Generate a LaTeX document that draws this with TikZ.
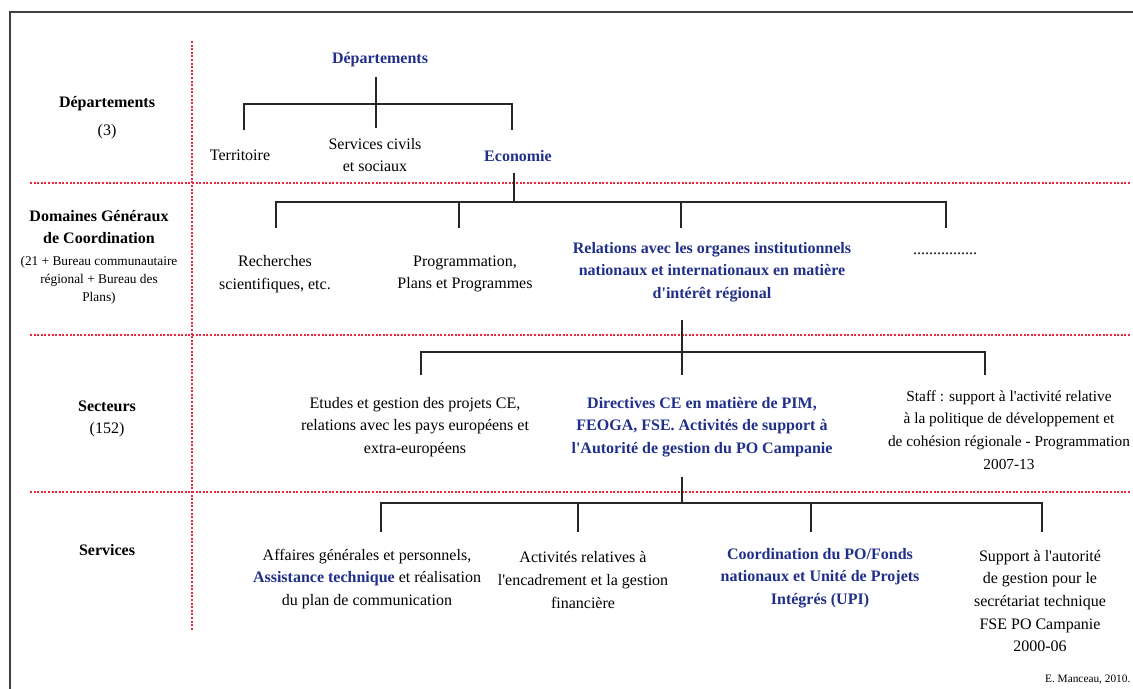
\documentclass[tikz,border=0pt]{standalone}
\usepackage{fontspec}
\setmainfont{Liberation Serif}[Ligatures=TeXOff]
\definecolor{bleu}{RGB}{32,48,138}
\definecolor{rouge}{RGB}{236,40,60}
\tikzset{
	txt/.style={align=center,inner sep=1pt,font=\fontsize{12}{17}\selectfont},
	txtb/.style={txt,font=\bfseries\fontsize{12}{17}\selectfont},
	txtbl/.style={txtb,text=bleu},
	petit/.style={align=center,inner sep=1pt,font=\fontsize{10}{13.5}\selectfont},
	trait/.style={line width=1pt,black!85},
	sep/.style={rouge,line width=1pt,dash pattern=on 1.5pt off 1.2pt},
}
\begin{document}
\begin{tikzpicture}[x=0.75pt,y=-0.75pt]
	\useasboundingbox (0,0) rectangle (1133,689);
	\draw[line width=1.1pt,black!75] (1133,12) -- (10,12) -- (10,689); %cadre
	\draw[sep] (192,41) -- (192,631);
	\foreach \y in {183,335,492}{\draw[sep] (30,\y) -- (1130,\y);}%niveaux
	
	%colonne gauche
	\node[txtb] (niv1) at (107,104) {Départements};
	\node[txt] (niv1n) at (107,132) {(3)};
	\node[txtb] (niv2) at (99,227) {Domaines Généraux\\de Coordination};
	\node[petit] (niv2n) at (99,280) {(21 + Bureau communautaire\\régional + Bureau des\\Plans)};
	\node[txtb] (niv3) at (107,406) {Secteurs};
	\node[txt] (niv3n) at (107,430) {(152)};
	\node[txtb] (niv4) at (107,550) {Services};
	
	%departements
	\node[txtbl] (dep) at (380,60) {Départements};
	\node[txt] (ter) at (240,155) {Territoire};
	\node[txt] (scs) at (375,155) {Services civils\\et sociaux};
	\node[txtbl] (eco) at (518,156) {Economie};
	\coordinate (dep-b) at (376,104);
	\coordinate (ter-h) at (244,130); \coordinate (scs-h) at (376,128); \coordinate (eco-h) at (512,130);
	\draw[trait,shorten <=6pt] (dep.south -| dep-b) -- (dep-b);
	\foreach \c in {ter-h,scs-h,eco-h}{\draw[trait] (dep-b) -| (\c);}
	
	%domaines generaux
	\node[txt] (rec) at (275,274) {Recherches\\scientifiques, etc.};
	\node[txt] (pro) at (465,274) {Programmation,\\Plans et Programmes};
	\node[txtbl] (rel) at (712,272) {Relations avec les organes institutionnels\\nationaux et internationaux en matière\\d'intérêt régional};
	\node[txt] (etc) at (945,254) {................};
	\coordinate (eco-b) at (514,202);
	\coordinate (rec-h) at (276,228); \coordinate (pro-h) at (459,228); \coordinate (rel-h) at (681,228); \coordinate (etc-h) at (946,228);
	\draw[trait,shorten <=7pt] (eco.south -| eco-b) -- (eco-b);
	\foreach \c in {rec-h,pro-h,rel-h,etc-h}{\draw[trait] (eco-b) -| (\c);}
	
	%secteurs
	\node[txt] (etu) at (415,427) {Etudes et gestion des projets CE,\\relations avec les pays européens et\\extra-européens};
	\node[txtbl] (dir) at (702,427) {Directives CE en matière de PIM,\\FEOGA, FSE. Activités de support à\\l'Autorité de gestion du PO Campanie};
	\node[txt,font=\fontsize{11.5}{17}\selectfont] (sta) at (1009,430) {Staff : support à l'activité relative\\à la politique de développement et\\de cohésion régionale - Programmation\\2007-13};
	\coordinate (rel-b) at (682,352);
	\coordinate (etu-h) at (421,375); \coordinate (dir-h) at (682,375); \coordinate (sta-h) at (985,375);
	\draw[trait,shorten <=12pt] (rel.south -| rel-b) -- (rel-b);
	\foreach \c in {etu-h,dir-h,sta-h}{\draw[trait] (rel-b) -| (\c);}
	
	%services
	\node[txt] (aff) at (367,579) {Affaires générales et personnels,\\{\color{bleu}\bfseries Assistance technique} et réalisation\\du plan de communication};
	\node[txt] (act) at (583,580) {Activités relatives à\\l'encadrement et la gestion\\financière};
	\node[txtbl] (coo) at (820,578) {Coordination du PO/Fonds\\nationaux et Unité de Projets\\Intégrés (UPI)};
	\node[txt] (sup) at (1040,601) {Support à l'autorité\\de gestion pour le\\secrétariat technique\\FSE PO Campanie\\2000-06};
	\coordinate (dir-b) at (682,503);
	\coordinate (aff-h) at (381,532); \coordinate (act-h) at (578,532); \coordinate (coo-h) at (811,532); \coordinate (sup-h) at (1042,532);
	\draw[trait,shorten <=14pt] (dir.south -| dir-b) -- (dir-b);
	\foreach \c in {aff-h,act-h,coo-h,sup-h}{\draw[trait] (dir-b) -| (\c);}
	
	\node[anchor=east,inner sep=1pt,font=\fontsize{8.5}{10}\selectfont] (src) at (1132,680) {E. Manceau, 2010.};
\end{tikzpicture}
\end{document}
